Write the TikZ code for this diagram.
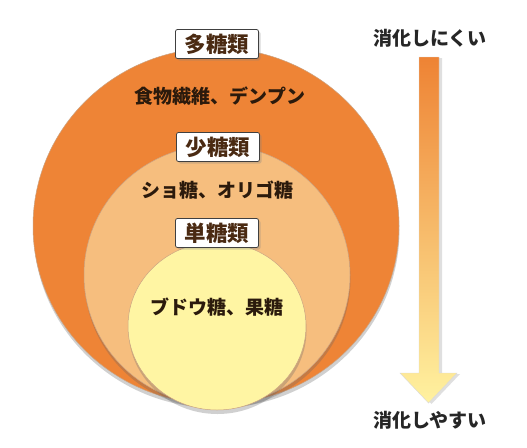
\documentclass[tikz,border=0pt]{standalone}
\usepackage{fontspec}
\newfontfamily\jp{Noto Sans CJK JP}
\usetikzlibrary{shadows,shapes.geometric,calc}
\definecolor{outerc}{HTML}{EE8436}
\definecolor{midc}{HTML}{F6BE7E}
\definecolor{innerc}{HTML}{FFF5A3}
\definecolor{edgec}{HTML}{A8652E}
\definecolor{labtxt}{HTML}{4A2A12}
\definecolor{bodytxt}{HTML}{2B1A0C}
\definecolor{arrtop}{HTML}{EE8334}
\definecolor{arrmid}{HTML}{F4A852}
\definecolor{arrbot}{HTML}{FFF2A0}
\begin{document}
\begin{tikzpicture}[x=1pt,y=-1pt,
  disc/.style={ellipse, draw=edgec!60, line width=0.5pt, inner sep=0pt,
    drop shadow={shadow xshift=0.5pt, shadow yshift=-4pt, opacity=0.3, fill=black!60}},
  labelbox/.style={draw=black!75, fill=white, rounded corners=2pt, line width=0.8pt,
    minimum width=83pt, minimum height=29pt, inner sep=0pt, text=labtxt,
    font=\jp\bfseries\fontsize{21.5}{21.5}\selectfont,
    drop shadow={shadow xshift=2pt, shadow yshift=-2pt, opacity=0.3}},
  bodytext/.style={text=bodytxt, inner sep=0pt, font=\jp\bfseries\fontsize{19}{20}\selectfont},
  sidetext/.style={text=black!85, inner sep=0pt, font=\jp\bfseries\fontsize{19}{20}\selectfont}]
\useasboundingbox (0,0) rectangle (527,447);
\fill[white] (0,0) rectangle (527,447);
% circles
\node[disc, fill=outerc, minimum width=366pt, minimum height=356pt] (poly) at (216,226) {};
\node[disc, fill=midc, minimum width=266pt, minimum height=260pt] (oligo) at (217,275) {};
\node[disc, fill=innerc, minimum width=178pt, minimum height=168pt] (mono) at (217,326) {};
% labels
\node[labelbox] (lpoly) at (217,44) {多糖類};
\node[labelbox] (loligo) at (218,147) {少糖類};
\node[labelbox] (lmono) at (217,233) {単糖類};
% texts
\node[bodytext] (tpoly) at (220,96) {食物繊維、デンプン};
\node[bodytext] (toligo) at (217,190) {ショ糖、オリゴ糖};
\node[bodytext] (tmono) at (217,307) {ブドウ糖、果糖};
% side arrow
\node[sidetext] (hard) at (430,38) {消化しにくい};
\node[sidetext] (easy) at (430,420) {消化しやすい};
\coordinate (atop) at (429,57);
\coordinate (atip) at (428.5,403);
\path[top color=arrtop, middle color=arrmid, bottom color=arrbot, draw=black!15, line width=0.4pt,
  drop shadow={shadow xshift=3pt, shadow yshift=-1pt, opacity=0.25}]
  ($(atop)+(-10,0)$) -- ($(atop)+(10,0)$) -- ($(atip)+(10.5,-30)$) -- ($(atip)+(28.5,-30)$)
  -- (atip) -- ($(atip)+(-28.5,-30)$) -- ($(atip)+(-9.5,-30)$) -- cycle;
\end{tikzpicture}
\end{document}
